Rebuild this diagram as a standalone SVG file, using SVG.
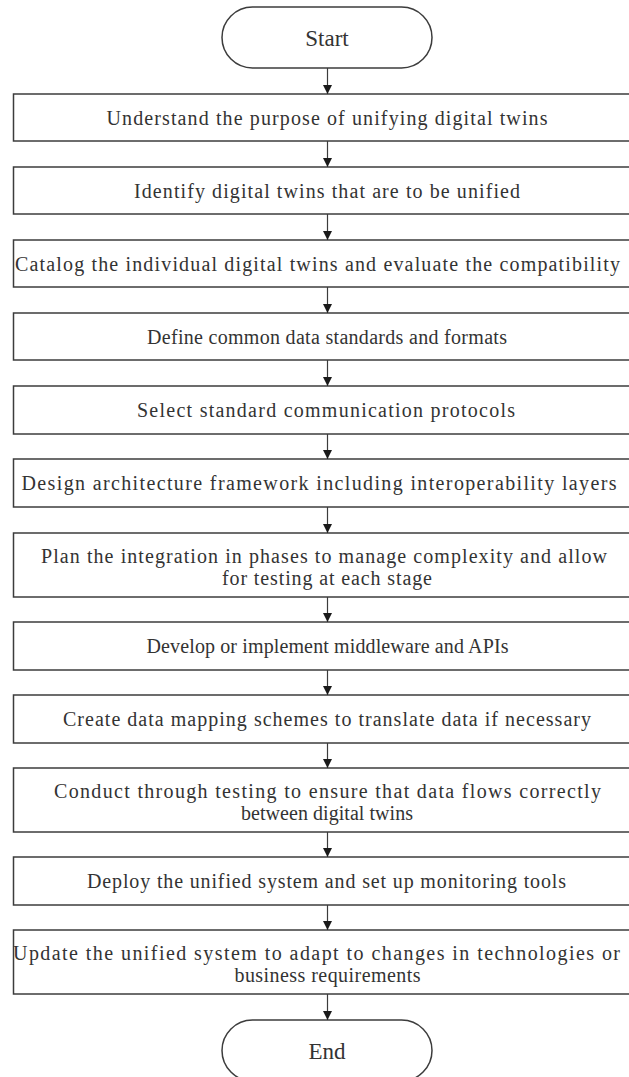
<svg xmlns="http://www.w3.org/2000/svg" width="629" height="1077" viewBox="0 0 629 1077">
<defs>
<marker id="ah" viewBox="0 0 10 10" refX="10" refY="5" markerWidth="9" markerHeight="9" markerUnits="userSpaceOnUse" orient="auto">
<path d="M0,0 L10,5 L0,10 Z" fill="#1a1a1a"/>
</marker>
<style>
.box{fill:#ffffff;stroke:#3c3c3c;stroke-width:1.5}
.t{font-family:"Liberation Serif","Times New Roman",serif;font-size:20px;fill:#333333;text-anchor:middle}
.tt{font-family:"Liberation Serif","Times New Roman",serif;font-size:23px;fill:#333333;text-anchor:middle}
.c{stroke:#3c3c3c;stroke-width:1.2;fill:none}
</style>
</defs>
<rect width="629" height="1077" fill="#ffffff"/>
<g id="start"><rect class="box" x="222" y="7" width="210" height="61" rx="30.5"/><text class="tt" x="327" y="45.5">Start</text></g>
<g id="n1"><rect class="box" x="13.5" y="94" width="627" height="47"/><text class="t" x="327" y="124.5" textLength="441" lengthAdjust="spacing">Understand the purpose of unifying digital twins</text></g>
<g id="n2"><rect class="box" x="13.5" y="167" width="627" height="47"/><text class="t" x="327" y="197.5" textLength="386" lengthAdjust="spacing">Identify digital twins that are to be unified</text></g>
<g id="n3"><rect class="box" x="13.5" y="240" width="627" height="47"/><text class="t" x="317.5" y="270.5" textLength="605" lengthAdjust="spacing">Catalog the individual digital twins and evaluate the compatibility</text></g>
<g id="n4"><rect class="box" x="13.5" y="313" width="627" height="47"/><text class="t" x="327" y="343.5" textLength="360" lengthAdjust="spacing">Define common data standards and formats</text></g>
<g id="n5"><rect class="box" x="13.5" y="386" width="627" height="48"/><text class="t" x="326" y="417" textLength="378" lengthAdjust="spacing">Select standard communication protocols</text></g>
<g id="n6"><rect class="box" x="13.5" y="459" width="627" height="48"/><text class="t" x="319" y="490" textLength="595" lengthAdjust="spacing">Design architecture framework including interoperability layers</text></g>
<g id="n7"><rect class="box" x="13.5" y="533" width="627" height="64"/><text class="t" x="324" y="563" textLength="566" lengthAdjust="spacing">Plan the integration in phases to manage complexity and allow</text><text class="t" x="327" y="585" textLength="210" lengthAdjust="spacing">for testing at each stage</text></g>
<g id="n8"><rect class="box" x="13.5" y="622" width="627" height="48"/><text class="t" x="327.5" y="653" textLength="362" lengthAdjust="spacing">Develop or implement middleware and APIs</text></g>
<g id="n9"><rect class="box" x="13.5" y="695" width="627" height="48"/><text class="t" x="327" y="726" textLength="528" lengthAdjust="spacing">Create data mapping schemes to translate data if necessary</text></g>
<g id="n10"><rect class="box" x="13.5" y="768" width="627" height="64"/><text class="t" x="327.5" y="798" textLength="547" lengthAdjust="spacing">Conduct through testing to ensure that data flows correctly</text><text class="t" x="327" y="820" textLength="172" lengthAdjust="spacing">between digital twins</text></g>
<g id="n11"><rect class="box" x="13.5" y="857" width="627" height="48"/><text class="t" x="326.5" y="888" textLength="479" lengthAdjust="spacing">Deploy the unified system and set up monitoring tools</text></g>
<g id="n12"><rect class="box" x="13.5" y="930" width="627" height="64"/><text class="t" x="316.5" y="960" textLength="607" lengthAdjust="spacing">Update the unified system to adapt to changes in technologies or</text><text class="t" x="327.5" y="982" textLength="186" lengthAdjust="spacing">business requirements</text></g>
<g id="end"><rect class="box" x="222" y="1020" width="210" height="61" rx="30.5"/><text class="tt" x="327" y="1058.5">End</text></g>
<g id="connectors">
<line class="c" x1="327.5" y1="68" x2="327.5" y2="94" marker-end="url(#ah)"/>
<line class="c" x1="327.5" y1="141" x2="327.5" y2="167" marker-end="url(#ah)"/>
<line class="c" x1="327.5" y1="214" x2="327.5" y2="240" marker-end="url(#ah)"/>
<line class="c" x1="327.5" y1="287" x2="327.5" y2="313" marker-end="url(#ah)"/>
<line class="c" x1="327.5" y1="360" x2="327.5" y2="386" marker-end="url(#ah)"/>
<line class="c" x1="327.5" y1="434" x2="327.5" y2="459" marker-end="url(#ah)"/>
<line class="c" x1="327.5" y1="507" x2="327.5" y2="533" marker-end="url(#ah)"/>
<line class="c" x1="327.5" y1="597" x2="327.5" y2="622" marker-end="url(#ah)"/>
<line class="c" x1="327.5" y1="670" x2="327.5" y2="695" marker-end="url(#ah)"/>
<line class="c" x1="327.5" y1="743" x2="327.5" y2="768" marker-end="url(#ah)"/>
<line class="c" x1="327.5" y1="832" x2="327.5" y2="857" marker-end="url(#ah)"/>
<line class="c" x1="327.5" y1="905" x2="327.5" y2="930" marker-end="url(#ah)"/>
<line class="c" x1="327.5" y1="994" x2="327.5" y2="1020" marker-end="url(#ah)"/>
</g>
</svg>
